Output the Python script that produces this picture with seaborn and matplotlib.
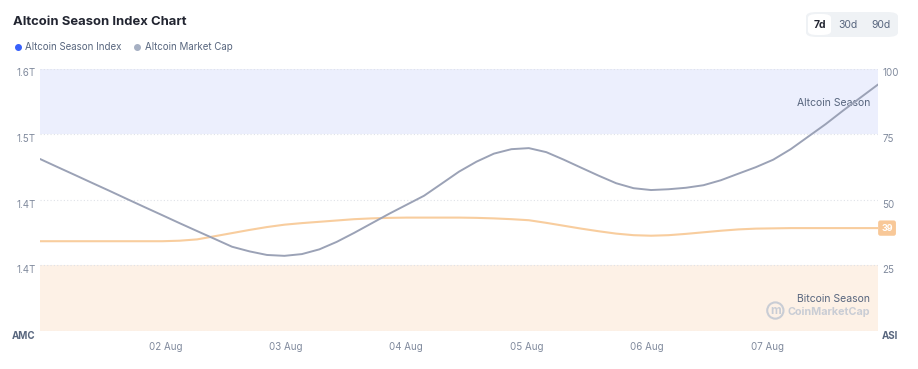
import pandas as pd
import numpy as np
import seaborn as sns
import matplotlib.pyplot as plt
from matplotlib.lines import Line2D
from matplotlib.patches import FancyBboxPatch

#%% data

times = pd.date_range("2024-07-31 23:00", "2024-08-07 22:00", periods=49)

# Altcoin Season Index (0-100, right axis)
asi = [34.2, 34.2, 34.2, 34.2, 34.2, 34.2, 34.2, 34.2, 34.4, 34.9,
       36.1, 37.3, 38.5, 39.6, 40.5, 41.1, 41.6, 42.1, 42.6, 42.9,
       43.1, 43.2, 43.2, 43.2, 43.2, 43.1, 42.9, 42.6, 42.2, 41.2,
       40.1, 39.0, 38.0, 37.1, 36.5, 36.3, 36.5, 37.0, 37.6, 38.2,
       38.7, 39.0, 39.1, 39.2, 39.2, 39.2, 39.2, 39.2, 39.2]

# Altcoin Market Cap, trillions USD (left axis)
amc = [1.4966, 1.4874, 1.4783, 1.4691, 1.4600, 1.4507, 1.4415, 1.4324, 1.4232, 1.4142,
       1.4053, 1.3963, 1.3910, 1.3869, 1.3859, 1.3879, 1.3933, 1.4019, 1.4122, 1.4231,
       1.4340, 1.4443, 1.4546, 1.4683, 1.4821, 1.4935, 1.5027, 1.5078, 1.5090, 1.5044,
       1.4958, 1.4866, 1.4775, 1.4689, 1.4632, 1.4611, 1.4620, 1.4637, 1.4666, 1.4723,
       1.4798, 1.4872, 1.4958, 1.5078, 1.5221, 1.5364, 1.5519, 1.5668, 1.5817]

df = pd.DataFrame({"time": times, "asi": asi, "amc": amc})

tick_days = pd.date_range("2024-08-02", "2024-08-07", freq="D")
tick_labels = ["02 Aug", "03 Aug", "04 Aug", "05 Aug", "06 Aug", "07 Aug"]

asi_ticks = [0, 25, 50, 75, 100]
asi_labels = ["ASI", "25", "50", "75", "100"]
amc_ticks = [1.3, 1.375, 1.45, 1.525, 1.6]
amc_labels = ["AMC", "1.4T", "1.4T", "1.5T", "1.6T"]

#%% style

sns.set_theme(style="white")
plt.rcParams["font.family"] = ["Inter", "DejaVu Sans"]

dark = "#222531"
grey = "#58667e"
light = "#808a9d"
c_amc = "#9ba2b6"
c_asi = "#f8cd9e"

fig = plt.figure(figsize=(9.18, 3.69), dpi=100)
ax = fig.add_axes([40/918, 38/369, 838/918, 262.5/369])
ax2 = ax.twinx()
ax.set_zorder(2)
ax2.set_zorder(1)
ax.patch.set_visible(False)

#%% bands + grid

ax2.axhspan(75, 100, color="#eceffd", lw=0, zorder=0)
ax2.axhspan(0, 25, color="#fdf1e6", lw=0, zorder=0)
for t in asi_ticks:
    ax2.axhline(t, color="#dfe2e8", ls=(0, (1, 2)), lw=0.8, zorder=0.5)

#%% lines

sns.lineplot(data=df, x="time", y="asi", ax=ax2, color=c_asi, lw=1.5, zorder=2)
sns.lineplot(data=df, x="time", y="amc", ax=ax, color=c_amc, lw=1.4, zorder=3)

ax.set_xlim(times[0], times[-1])
ax.set_ylim(1.3, 1.6)
ax2.set_ylim(0, 100)

for a in (ax, ax2):
    for s in a.spines.values():
        s.set_visible(False)
    a.set_xlabel("")
    a.set_ylabel("")

ax.set_xticks(tick_days)
ax.set_xticklabels(tick_labels)
ax.tick_params(axis="x", labelsize=7, colors=light, length=0, pad=8)

ax.set_yticks(amc_ticks)
ax.set_yticklabels(amc_labels)
ax.tick_params(axis="y", labelsize=7, colors=light, length=0, pad=3)
ax2.set_yticks(asi_ticks)
ax2.set_yticklabels(asi_labels)
ax2.tick_params(axis="y", labelsize=7, colors=light, length=0, pad=3)

for lab in ax.get_yticklabels() + ax2.get_yticklabels():
    lab.set_va("top")
for lab in (ax.get_yticklabels()[0], ax2.get_yticklabels()[0]):
    lab.set_fontweight("bold")
    lab.set_color(grey)

#%% labels in the chart

tr = ax2.get_yaxis_transform()
ax2.text(0.9905, 87, "Altcoin Season", transform=tr, ha="right", va="center",
         fontsize=7.5, color=grey, zorder=1)
ax2.text(0.9905, 12.3, "Bitcoin Season", transform=tr, ha="right", va="center",
         fontsize=7.5, color=grey, zorder=1)
ax2.text(0.9905, 7.4, "CoinMarketCap", transform=tr, ha="right", va="center",
         fontsize=7.8, color="#c9cdd5", fontweight="bold", zorder=1)
ax2.text(0.8775, 7.8, "m", transform=tr, ha="center", va="center", fontsize=8.5,
         color="#c9cdd5", fontweight="bold", zorder=1,
         bbox=dict(boxstyle="circle,pad=0.18", fc="none", ec="#c9cdd5", lw=1.5))

ax2.annotate(f"{asi[-1]:.0f}", xy=(times[-1], asi[-1]), xytext=(6.5, 0),
             textcoords="offset points", ha="center", va="center", color="white",
             fontsize=6.5, fontweight="bold", annotation_clip=False,
             bbox=dict(boxstyle="round,pad=0.35,rounding_size=0.25", fc="#f8c898", ec="none"))

#%% title, legend, buttons

fig.text(13/918, 1 - 22/369, "Altcoin Season Index Chart", fontsize=9.4,
         fontweight="bold", color=dark, va="center", ha="left")

handles = [Line2D([], [], marker="o", ls="", color="#3861fb", markersize=4),
           Line2D([], [], marker="o", ls="", color="#a6b0c3", markersize=4)]
fig.legend(handles, ["Altcoin Season Index", "Altcoin Market Cap"], loc="center left",
           bbox_to_anchor=(3/918, 1 - 47/369), ncol=2, frameon=False, fontsize=7,
           labelcolor=grey, handletextpad=0.2, columnspacing=1.0, handlelength=1.2)

fig.patches.append(FancyBboxPatch((806/918, 1 - 37/369), 92/918, 25/369,
                                  boxstyle="round,pad=0,rounding_size=0.012",
                                  transform=fig.transFigure, fc="#eff2f5", ec="none"))
fig.patches.append(FancyBboxPatch((808/918, 1 - 35/369), 23/918, 21/369,
                                  boxstyle="round,pad=0,rounding_size=0.01",
                                  transform=fig.transFigure, fc="white", ec="none"))
for xc, txt, col, w in [(819.5, "7d", dark, "bold"), (848, "30d", grey, "normal"),
                        (881, "90d", grey, "normal")]:
    fig.text(xc/918, 1 - 24.5/369, txt, ha="center", va="center", fontsize=7.5,
             color=col, fontweight=w)

fig.savefig("out.png", dpi=100)
